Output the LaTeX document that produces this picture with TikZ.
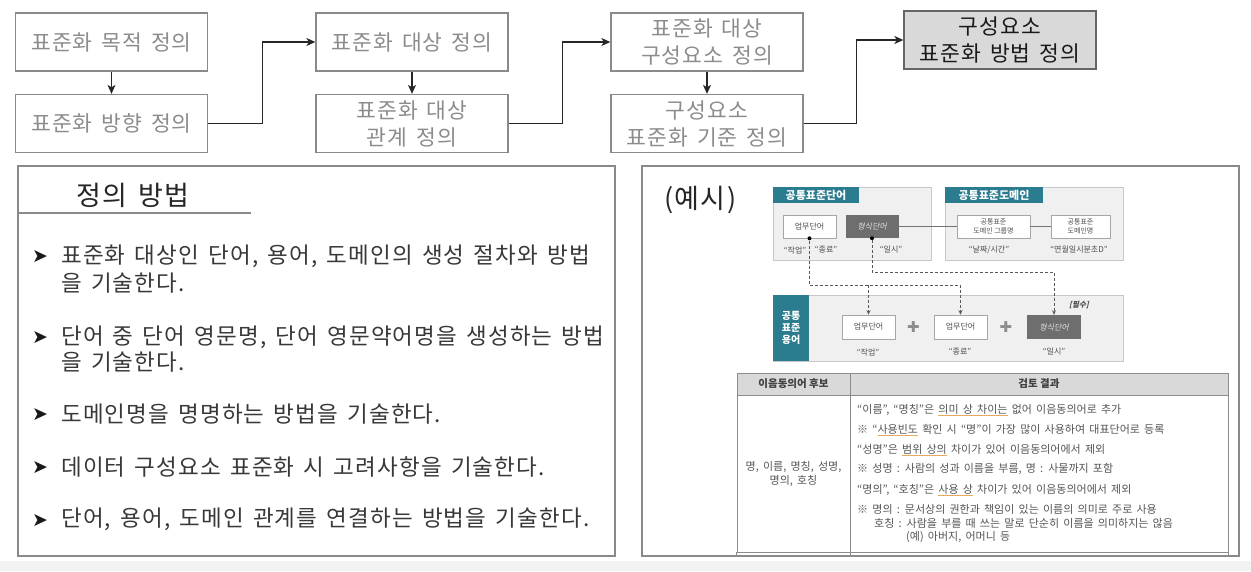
\documentclass[tikz,border=0pt]{standalone}
\usepackage{fontspec}
\setmainfont{Noto Sans CJK KR}
\newfontfamily\krw[LetterSpace=5, WordSpace=1.5]{Noto Sans CJK KR}
\newfontfamily\krt[WordSpace=1.7]{Noto Sans CJK KR}
\newfontfamily\krslant[FakeSlant=0.22]{Noto Sans CJK KR}
\newfontfamily\dejavu{DejaVu Sans}
\usetikzlibrary{arrows.meta}
\definecolor{bordgray}{HTML}{8A8A8A}
\definecolor{steptext}{HTML}{8C8C8C}
\definecolor{tealhd}{HTML}{2A7C8E}
\definecolor{ulorange}{HTML}{E8A95E}
\definecolor{tabtext}{HTML}{555555}
\newsavebox\oulbox
\newcommand\oul[1]{\sbox\oulbox{#1}\rlap{\textcolor{ulorange}{\rule[-2.2pt]{\wd\oulbox}{0.7pt}}}\usebox\oulbox}
\tikzset{
 stepbox/.style={draw=bordgray, line width=1.3pt, minimum width=192pt, minimum height=58pt, inner sep=0pt, align=center, text=steptext, font=\krw\fontsize{21.5}{27}\selectfont},
 keybox/.style={stepbox, fill=black!15, draw=black!60, text=black!90},
 conn/.style={draw=black!85, line width=1.1pt, -{Stealth[length=9pt,width=8pt,inset=2.5pt]}},
 panel/.style={draw=bordgray, line width=1.3pt, minimum width=597pt, minimum height=390pt, inner sep=0pt},
 bul/.style={font=\dejavu\fontsize{19}{19}\selectfont, text=black!90, inner sep=0pt},
 btxt/.style={anchor=west, inner sep=0pt, font=\krw\fontsize{22.5}{22.5}\selectfont, text=black!78},
 grp/.style={draw=black!22, fill=black!6, line width=0.8pt, inner sep=0pt},
 hdr/.style={fill=tealhd, text=white, font=\bfseries\fontsize{11}{11}\selectfont, inner sep=0pt},
 wbox/.style={draw=black!35, fill=white, line width=0.6pt, minimum width=53pt, minimum height=23pt, inner sep=0pt, font=\fontsize{8}{8}\selectfont, text=black!70, align=center},
 fbox/.style={fill=black!57, minimum width=53pt, minimum height=23pt, inner sep=0pt, font=\krslant\fontsize{8}{8}\selectfont, text=black!12},
 lbl/.style={font=\fontsize{8}{8}\selectfont, text=black!70, inner sep=0pt},
 solidc/.style={draw=black!55, line width=0.8pt},
 dsh/.style={draw=black!65, dash pattern=on 3pt off 2pt, line width=0.8pt},
 dsharr/.style={dsh, -{Stealth[length=4.5pt,width=4pt]}},
 dotn/.style={circle, fill=black, inner sep=0pt, minimum size=4pt},
 plus/.style={font=\dejavu\fontsize{15}{15}\selectfont, text=black!45, inner sep=0pt},
 tcell/.style={draw=black!45, line width=0.8pt, inner sep=0pt},
 thdr/.style={tcell, fill=black!15, font=\bfseries\fontsize{10.5}{10.5}\selectfont, text=black!75},
 rtxt/.style={anchor=west, inner sep=0pt, font=\krt\fontsize{11}{11}\selectfont, text=tabtext},
}
\begin{document}
\begin{tikzpicture}[x=1pt, y=-1pt]
\useasboundingbox (0,0) rectangle (1251,571);
\fill[white] (0,0) rectangle (1251,571);
\fill[black!5] (0,561) rectangle (1251,571);

% top flow
\node[stepbox] (b1) at (111.5,42) {표준화 목적 정의};
\node[stepbox] (b2) at (111.5,123.5) {표준화 방향 정의};
\node[stepbox] (b3) at (412,42) {표준화 대상 정의};
\node[stepbox] (b4) at (412,123.5) {표준화 대상\\관계 정의};
\node[stepbox] (b5) at (707,42) {표준화 대상\\구성요소 정의};
\node[stepbox] (b6) at (707,123.5) {구성요소\\표준화 기준 정의};
\node[keybox] (b7) at (1000,40) {구성요소\\표준화 방법 정의};
\draw[conn] (b1) -- (b2);
\draw[conn] (b2.east) -- ++(54,0) |- (b3.west);
\draw[conn] (b3) -- (b4);
\draw[conn] (b4.east) -- ++(54,0) |- (b5.west);
\draw[conn] (b5) -- (b6);
\draw[conn] (b6.east) -- ++(53,0) |- (b7.west);

% left panel
\node[panel] (lp) at (316.5,361) {};
\node[anchor=west, inner sep=0pt, font=\krw\fontsize{27}{27}\selectfont, text=black!85] (ttl) at (76,195) {정의 방법};
\coordinate (ule) at (251,213);
\draw[draw=bordgray, line width=1.2pt] (lp.west |- ule) -- (ule);
\node[bul] (k1) at (40,257) {➤};
\node[btxt] (l1a) at (61,256) {표준화 대상인 단어, 용어, 도메인의 생성 절차와 방법};
\node[btxt] (l1b) at (61,283.5) {을 기술한다.};
\node[bul] (k2) at (40,338) {➤};
\node[btxt] (l2a) at (61,337) {단어 중 단어 영문명, 단어 영문약어명을 생성하는 방법};
\node[btxt] (l2b) at (61,362) {을 기술한다.};
\node[bul] (k3) at (40,415) {➤};
\node[btxt] (l3) at (61,414) {도메인명을 명명하는 방법을 기술한다.};
\node[bul] (k4) at (40,468) {➤};
\node[btxt] (l4) at (61,467) {데이터 구성요소 표준화 시 고려사항을 기술한다.};
\node[bul] (k5) at (40,520.5) {➤};
\node[btxt] (l5) at (61,519.5) {단어, 용어, 도메인 관계를 연결하는 방법을 기술한다.};

% right panel
\node[panel] (rp) at (940.5,361) {};
\node[anchor=west, inner sep=0pt, font=\krw\fontsize{27}{27}\selectfont, text=black!85] (ex) at (664,200) {(예시)};

% example graphic
\node[grp, minimum width=158pt, minimum height=73pt] (gW) at (852,223.5) {};
\node[grp, minimum width=178pt, minimum height=73pt] (gD) at (1034,223.5) {};
\node[grp, minimum width=350pt, minimum height=66pt] (gT) at (948,328) {};
\node[hdr, minimum width=86pt, minimum height=16pt] (hW) at (816,195) {공통표준단어};
\node[hdr, minimum width=98pt, minimum height=16pt] (hD) at (994,195) {공통표준도메인};
\node[hdr, minimum width=36pt, minimum height=66pt, align=center, font=\bfseries\fontsize{10}{12}\selectfont] (hT) at (791,328) {공통\\표준\\용어};

\node[wbox] (w1) at (809.5,226.5) {업무단어};
\node[fbox] (f1) at (872,226.5) {형식단어};
\node[wbox, minimum width=73pt, font=\fontsize{7}{8.5}\selectfont] (dG) at (993.5,226.5) {공통표준\\도메인 그룹명};
\node[wbox, minimum width=59pt, font=\fontsize{7}{8.5}\selectfont] (dN) at (1080.5,226.5) {공통표준\\도메인명};
\draw[solidc] (f1.east) -- (dG.west);
\draw[solidc] (dG.east) -- (dN.west);
\node[lbl] (lw1) at (795,250) {“작업”};
\node[lbl] (lw2) at (826,250) {“종료”};
\node[lbl] (lf1) at (891,250) {“일시”};
\node[lbl] (ld1) at (989,250) {“날짜/시간”};
\node[lbl] (ld2) at (1079,250) {“연월일시분초D”};

\node[wbox, minimum height=24pt] (t1) at (868.5,327) {업무단어};
\node[wbox, minimum height=24pt] (t2) at (960.5,327) {업무단어};
\node[fbox, minimum height=24pt, minimum width=54pt] (t3) at (1054,327) {형식단어};
\node[plus] (p1) at (913.5,327) {✚};
\node[plus] (p2) at (1006,327) {✚};
\node[lbl] (lt1) at (868,352) {“작업”};
\node[lbl] (lt2) at (960,352) {“종료”};
\node[lbl] (lt3) at (1054,352) {“일시”};
\node[lbl, font=\krslant\bfseries\fontsize{7.5}{7.5}\selectfont] (must) at (1079,305) {[필수]};

\node[dotn] (d1) at (w1.south) {};
\node[dotn] (d2) at (f1.south) {};
\coordinate (h1) at (0,285);
\coordinate (h2) at (0,272);
\draw[dsharr] (d1) -- (d1 |- h1) -| (t2.north);
\draw[dsharr] (t1.north |- h1) -- (t1.north);
\draw[dsharr] (d2) |- (t3.north |- h2) -- (t3.north);

% table
\node[thdr, minimum width=113pt, minimum height=22pt] (th1) at (793.5,384) {이음동의어 후보};
\node[thdr, minimum width=378pt, minimum height=22pt] (th2) at (1039,384) {검토 결과};
\node[tcell, minimum width=113pt, minimum height=157pt, align=center, font=\krt\fontsize{11}{14}\selectfont, text=tabtext] (tb1) at (793.5,473.5) {명, 이름, 명칭, 성명,\\명의, 호칭};
\node[tcell, minimum width=378pt, minimum height=157pt] (tb2) at (1039,473.5) {};
\draw[tcell] (tb1.south west) -- ++(0,4);
\draw[tcell] (tb1.south east) -- ++(0,4);
\draw[tcell] (tb2.south east) -- ++(0,4);
\node[rtxt] (r1) at (857,410) {“이름”, “명칭”은 \oul{의미 상 차이는} 없어 이음동의어로 추가};
\node[rtxt] (r2) at (857,430) {※ “\oul{사용빈도} 확인 시 “명”이 가장 많이 사용하여 대표단어로 등록};
\node[rtxt] (r3) at (857,450) {“성명”은 \oul{범위 상의} 차이가 있어 이음동의어에서 제외};
\node[rtxt] (r4) at (857,469) {※ 성명 : 사람의 성과 이름을 부름, 명 : 사물까지 포함};
\node[rtxt] (r5) at (857,490) {“명의”, “호칭”은 \oul{사용 상} 차이가 있어 이음동의어에서 제외};
\node[rtxt] (r6) at (857,509) {※ 명의 : 문서상의 권한과 책임이 있는 이름의 의미로 주로 사용};
\node[rtxt] (r7) at (874,523) {호칭 : 사람을 부를 때 쓰는 말로 단순히 이름을 의미하지는 않음};
\node[rtxt] (r8) at (906,537) {(예) 아버지, 어머니 등};
\end{tikzpicture}
\end{document}
